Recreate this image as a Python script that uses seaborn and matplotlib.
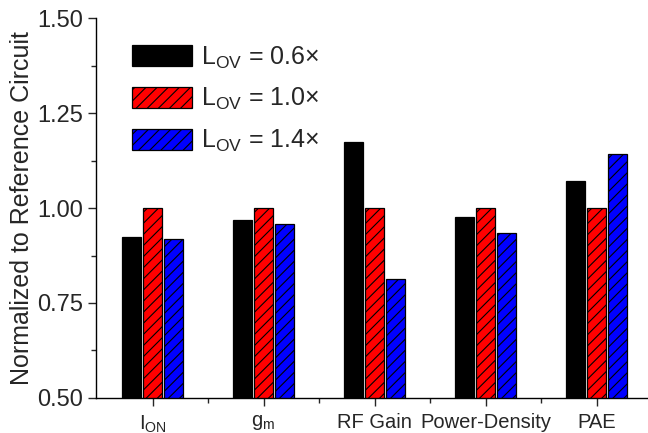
import matplotlib
matplotlib.use("Agg")
import matplotlib.pyplot as plt
import seaborn as sns
import pandas as pd
from matplotlib.patches import Patch
from matplotlib.ticker import MultipleLocator, FixedLocator

categories = [r"I$_{\mathrm{ON}}$", r"g$_{\mathrm{m}}$", "RF Gain", "Power-Density", "PAE"]
lov_06 = [0.924, 0.968, 1.175, 0.977, 1.071]
lov_10 = [1.000, 1.000, 1.000, 1.000, 1.000]
lov_14 = [0.918, 0.957, 0.814, 0.933, 1.142]
series_labels = [r"L$_{\mathrm{OV}}$ = 0.6$\times$",
                 r"L$_{\mathrm{OV}}$ = 1.0$\times$",
                 r"L$_{\mathrm{OV}}$ = 1.4$\times$"]
colors = ["#000000", "#ff0000", "#0000ff"]
hatches = ["", "///", "///"]

sns.set_style("ticks")
plt.rcParams["font.family"] = ["Liberation Sans", "DejaVu Sans"]
plt.rcParams["mathtext.fontset"] = "custom"
plt.rcParams["mathtext.rm"] = "Liberation Sans"
plt.rcParams["mathtext.it"] = "Liberation Sans:italic"
plt.rcParams["hatch.linewidth"] = 0.8

rows = []
for lab, vals in zip(series_labels, [lov_06, lov_10, lov_14]):
    for c, v in zip(categories, vals):
        rows.append({"metric": c, "value": v, "series": lab})
df = pd.DataFrame(rows)

fig = plt.figure(figsize=(6.48, 4.33), dpi=100)
ax = fig.add_axes([0.148, 0.081, 0.86, 0.877])

sns.barplot(data=df, x="metric", y="value", hue="series", order=categories,
            hue_order=series_labels, palette=colors, width=0.57, gap=0.1,
            edgecolor="black", linewidth=0.9, saturation=1, legend=False, ax=ax)

for cont, h in zip(ax.containers, hatches):
    for bar in cont:
        bar.set_hatch(h)

ax.set_ylim(0.5, 1.5)
ax.set_xlim(-0.51, 4.51)
ax.yaxis.set_major_locator(MultipleLocator(0.25))
ax.yaxis.set_minor_locator(MultipleLocator(0.125))
ax.xaxis.set_minor_locator(FixedLocator([0.5, 1.5, 2.5, 3.5]))
ax.yaxis.set_major_formatter(matplotlib.ticker.FormatStrFormatter("%.2f"))

ax.tick_params(axis="y", which="major", labelsize=17, length=6, width=1, direction="out")
ax.tick_params(axis="y", which="minor", length=3.5, width=1, direction="out")
ax.tick_params(axis="x", which="major", labelsize=14.5, length=6, width=1,
               direction="out", pad=5)
ax.tick_params(axis="x", which="minor", length=3.5, width=1, direction="out")

ax.set_xlabel("")
ax.set_ylabel("Normalized to Reference Circuit", fontsize=18, labelpad=2)

for s in ["top", "right"]:
    ax.spines[s].set_visible(False)
for s in ["left", "bottom"]:
    ax.spines[s].set_linewidth(1)
    ax.spines[s].set_color("black")

handles = [Patch(facecolor=c, edgecolor="black", hatch=h, linewidth=0.9)
           for c, h in zip(colors, hatches)]
ax.legend(handles, series_labels, loc="upper left", bbox_to_anchor=(0.025, 0.99),
          frameon=False, fontsize=18, handlelength=2.4, handleheight=0.9,
          labelspacing=0.62, handletextpad=0.35)

fig.savefig("out.png", dpi=100)
